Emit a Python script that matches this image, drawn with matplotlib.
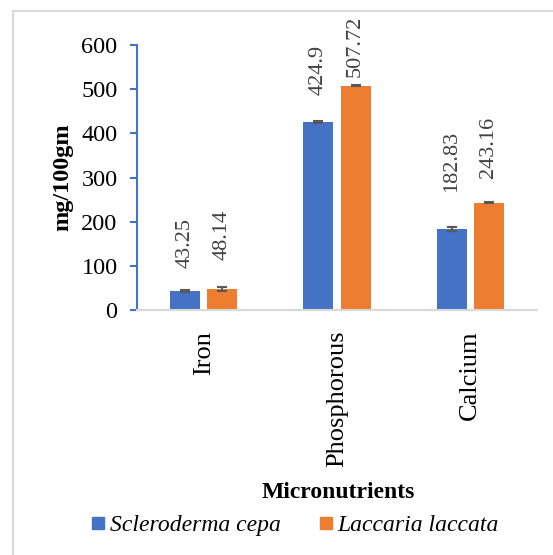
import matplotlib
matplotlib.use("Agg")
import matplotlib.pyplot as plt
import numpy as np
from matplotlib.patches import Rectangle
from matplotlib.lines import Line2D

plt.rcParams['font.family'] = ['Liberation Serif', 'DejaVu Serif']

# Data
categories = ["Iron", "Phosphorous", "Calcium"]
series_names = ["Scleroderma cepa", "Laccaria laccata"]
scleroderma = [43.25, 424.9, 182.83]
laccaria = [48.14, 507.72, 243.16]
scleroderma_err = [2, 2, 5]
laccaria_err = [5, 1, 2]
y_ticks = [0, 100, 200, 300, 400, 500, 600]

blue = "#4472C4"
orange = "#ED7D31"

W, H = 553, 555
fig = plt.figure(figsize=(W / 100, H / 100), dpi=100)

# light border like the Excel chart area
fig.patches.append(Rectangle((13 / W, -0.05), 1.1, 1 - 11 / H + 0.05,
                             transform=fig.transFigure, fill=False,
                             edgecolor="#d9d9d9", linewidth=1.5))

ax = fig.add_axes([137 / W, 1 - 310 / H, 400 / W, 265 / H])

x = np.arange(len(categories))
bw = 0.225
off = 0.14

b1 = ax.bar(x - off, scleroderma, bw, color=blue, zorder=2)
b2 = ax.bar(x + off, laccaria, bw, color=orange, zorder=2)
ax.errorbar(x - off, scleroderma, yerr=scleroderma_err, fmt="none",
            ecolor="#595959", elinewidth=1.5, capsize=3.6, capthick=1.5, zorder=3)
ax.errorbar(x + off, laccaria, yerr=laccaria_err, fmt="none",
            ecolor="#595959", elinewidth=1.5, capsize=3.6, capthick=1.5, zorder=3)

# value labels (gap above bar top, in pixels, as placed in the original)
gaps_s = [23, 27, 37]
gaps_l = [29, 9, 25]
for xs, vals, gaps in ((x - off, scleroderma, gaps_s), (x + off, laccaria, gaps_l)):
    for xi, v, g in zip(xs, vals, gaps):
        ax.annotate(f"{v:g}", (xi, v), xytext=(0, g * 0.72),
                    textcoords="offset points", rotation=90,
                    ha="center", va="bottom", fontsize=16, color="#404040")

ax.set_xlim(-0.5, 2.5)
ax.set_ylim(0, 600)
ax.set_yticks(y_ticks)
ax.set_xticks(x)
ax.set_xticklabels(categories, rotation=90, fontsize=19)
ax.tick_params(axis="x", length=0, pad=15)
ax.tick_params(axis="y", length=5, width=1.5, color=blue, labelsize=17.5, pad=9)

for s in ("top", "right"):
    ax.spines[s].set_visible(False)
ax.spines["left"].set_color(blue)
ax.spines["left"].set_linewidth(1.5)
ax.spines["bottom"].set_color("#d9d9d9")
ax.spines["bottom"].set_linewidth(1.5)

ax.set_ylabel("mg/100gm", fontsize=17.5, fontweight="bold", labelpad=6)

fig.text(338 / W, 1 - 493 / H, "Micronutrients", ha="center", va="center",
         fontsize=17, fontweight="bold")

handles = [Line2D([], [], marker="s", linestyle="none", markersize=8,
                  markerfacecolor=c, markeredgecolor=c) for c in (blue, orange)]
fig.legend(handles, series_names, loc="center", bbox_to_anchor=(294 / W, 1 - 525 / H),
           ncol=2, frameon=False, prop={"style": "italic", "size": 17},
           handletextpad=0.1, columnspacing=1.5, handlelength=0.8)

fig.savefig("out.png", dpi=100)
